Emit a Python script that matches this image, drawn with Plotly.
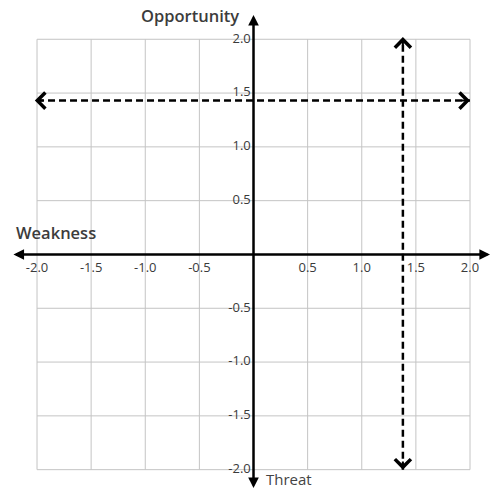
import plotly.graph_objects as go

# ---- data ----
grid_vals = [-2.0, -1.5, -1.0, -0.5, 0.0, 0.5, 1.0, 1.5, 2.0]
x_tick_vals = [-2.0, -1.5, -1.0, -0.5, 0.5, 1.0, 1.5, 2.0]
x_tick_text = ["-2.0", "-1.5", "-1.0", "-0.5", "0.5", "1.0", "1.5", "2.0"]
y_tick_vals = [2.0, 1.5, 1.0, 0.5, -0.5, -1.0, -1.5, -2.0]
y_tick_text = ["2.0", "1.5", "1.0", "0.5", "-0.5", "-1.0", "-1.5", "-2.0"]
strength_x = 1.38      # vertical dashed marker
opportunity_y = 1.43   # horizontal dashed marker
lim = 2.0

X_RANGE = [-2.342, 2.194]
Y_RANGE = [-2.189, 2.365]

fig = go.Figure()

# grid
gx, gy = [], []
for v in grid_vals:
    gx += [v, v, None]; gy += [-lim, lim, None]
    gx += [-lim, lim, None]; gy += [v, v, None]
fig.add_trace(go.Scatter(x=gx, y=gy, mode="lines",
                         line=dict(color="#c4c4c4", width=1), hoverinfo="skip"))

# tick labels
tick_font = dict(family="Open Sans", size=13, color="#3a3a3a")
fig.add_trace(go.Scatter(x=x_tick_vals, y=[-0.135] * len(x_tick_vals), mode="text",
                         text=x_tick_text, textposition="middle center",
                         textfont=tick_font, hoverinfo="skip"))
fig.add_trace(go.Scatter(x=[-0.025] * len(y_tick_vals), y=y_tick_vals, mode="text",
                         text=y_tick_text, textposition="middle left",
                         textfont=tick_font, hoverinfo="skip"))

# dashed lines
fig.add_trace(go.Scatter(x=[-lim, lim], y=[opportunity_y, opportunity_y], mode="lines",
                         line=dict(color="black", width=2.5, dash="7px,4px"), hoverinfo="skip"))
fig.add_trace(go.Scatter(x=[strength_x, strength_x], y=[-lim, lim], mode="lines",
                         line=dict(color="black", width=2.5, dash="7px,4px"), hoverinfo="skip"))

ann = []
# main axes (solid, filled arrowheads)
ann.append(dict(x=2.185, y=0, ax=-2.232, ay=0, xref="x", yref="y", axref="x", ayref="y",
                showarrow=True, arrowhead=2, startarrowhead=2, arrowside="end+start",
                arrowwidth=2.5, arrowsize=0.85, startarrowsize=0.85, arrowcolor="black", text=""))
ann.append(dict(x=0, y=2.226, ax=0, ay=-2.185, xref="x", yref="y", axref="x", ayref="y",
                showarrow=True, arrowhead=2, startarrowhead=2, arrowside="end+start",
                arrowwidth=2.5, arrowsize=0.85, startarrowsize=0.85, arrowcolor="black", text=""))
# chevron heads for dashed lines
eps = 0.09
for (tx, ty, sx, sy) in [(lim, opportunity_y, lim - eps, opportunity_y),
                         (-lim - 0.02, opportunity_y, -lim - 0.02 + eps, opportunity_y),
                         (strength_x, lim + 0.02, strength_x, lim + 0.02 - eps),
                         (strength_x, -lim, strength_x, -lim + eps)]:
    ann.append(dict(x=tx, y=ty, ax=sx, ay=sy, xref="x", yref="y", axref="x", ayref="y",
                    showarrow=True, arrowhead=4, arrowwidth=2, arrowsize=1.55,
                    arrowcolor="black", text=""))

# axis titles
ann.append(dict(x=-0.12, y=2.225, xref="x", yref="y", text="Opportunity", showarrow=False,
                xanchor="right", yanchor="middle",
                font=dict(family="Open Sans", size=16.5, color="#3c3c3c", weight=600)))
ann.append(dict(x=-2.215, y=0.205, xref="x", yref="y", text="Weakness", showarrow=False,
                xanchor="left", yanchor="middle",
                font=dict(family="Open Sans", size=16.5, color="#3c3c3c", weight=600)))
ann.append(dict(x=2.205, y=0.165, xref="x", yref="y", text="Strength", showarrow=False,
                xanchor="right", yanchor="middle",
                font=dict(family="Open Sans", size=15.5, color="#444444")))
ann.append(dict(x=0.1, y=-2.09, xref="x", yref="y", text="Threat", showarrow=False,
                xanchor="left", yanchor="middle",
                font=dict(family="Open Sans", size=15, color="#444444")))

fig.update_layout(width=491, height=490, margin=dict(l=0, r=0, t=0, b=0),
                  plot_bgcolor="white", paper_bgcolor="white", showlegend=False,
                  annotations=ann,
                  xaxis=dict(range=X_RANGE, visible=False, fixedrange=True),
                  yaxis=dict(range=Y_RANGE, visible=False, fixedrange=True))

fig.write_html("out.html", config={"displayModeBar": False},
               post_script="document.body.style.margin='0';document.body.style.overflow='hidden';")
